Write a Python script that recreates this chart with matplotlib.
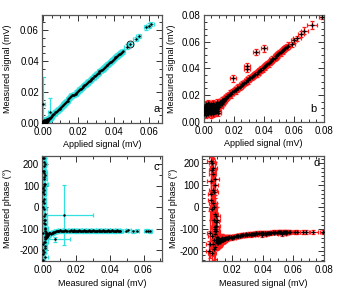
import matplotlib
matplotlib.use('Agg')
import matplotlib.pyplot as plt
from matplotlib.ticker import MultipleLocator, FormatStrFormatter

plt.rcParams['font.family'] = ['Liberation Sans', 'DejaVu Sans']
plt.rcParams['axes.unicode_minus'] = False

CYAN = '#33e0e0'
RED = '#ff1a1a'

# ---------------- data set A (cyan, panels a and c) ----------------
# low-signal cluster
cluster_applied_a = [
    0.0000, 0.0001, 0.0001, 0.0002, 0.0003, 0.0003, 0.0004, 0.0005, 0.0005, 0.0006,
    0.0007, 0.0008, 0.0008, 0.0009, 0.0010, 0.0011, 0.0011, 0.0012, 0.0013, 0.0014,
    0.0015, 0.0016, 0.0017, 0.0018, 0.0019, 0.0020, 0.0021, 0.0022, 0.0023, 0.0024,
    0.0025, 0.0026, 0.0027, 0.0028, 0.0029, 0.0030, 0.0032, 0.0034, 0.0036, 0.0038,
    0.0040, 0.0042, 0.0044, 0.0046, 0.0048,
    0.0002, 0.0004, 0.0006, 0.0009, 0.0012, 0.0014, 0.0016, 0.0019, 0.0021, 0.0024,
    0.0007, 0.0003, 0.0010, 0.0015, 0.0018, 0.0005, 0.0008, 0.0013, 0.0020, 0.0011]
cluster_measured_a = [
    0.0006, 0.0002, 0.0011, 0.0004, 0.0008, 0.0015, 0.0003, 0.0010, 0.0005, 0.0013,
    0.0007, 0.0018, 0.0002, 0.0009, 0.0012, 0.0006, 0.0016, 0.0004, 0.0020, 0.0010,
    0.0008, 0.0014, 0.0003, 0.0017, 0.0011, 0.0022, 0.0007, 0.0015, 0.0026, 0.0012,
    0.0019, 0.0024, 0.0009, 0.0021, 0.0028, 0.0017, 0.0025, 0.0030, 0.0027, 0.0033,
    0.0031, 0.0036, 0.0034, 0.0039, 0.0042,
    0.0009, 0.0005, 0.0013, 0.0003, 0.0007, 0.0011, 0.0004, 0.0015, 0.0008, 0.0012,
    0.0001, 0.0014, 0.0006, 0.0002, 0.0010, 0.0016, 0.0005, 0.0009, 0.0013, 0.0003]
cluster_phase_a = [
    60, -220, 150, -170, 20, -95, 230, -40, 190, -140,
    100, -120, -245, 130, -60, 210, -150, -200, -128, -10,
    80, -180, 170, -115, -80, -135, 40, -160, -130, -110,
    -125, -138, 110, -132, -127, -145, -133, -126, -136, -124,
    -131, -122, -128, -120, -118,
    -60, 170, -190, 90, 230, -100, 0, -230, 140, -30,
    -120, 200, -160, 30, -75, 110, -210, 160, -140, 70]
cluster_phase_err_a = [
    40, 60, 25, 50, 30, 20, 70, 25, 45, 22,
    30, 15, 60, 28, 22, 40, 18, 50, 14, 25,
    30, 18, 55, 15, 20, 12, 35, 16, 10, 20,
    14, 11, 28, 12, 9, 15, 10, 8, 9, 8,
    8, 7, 7, 6, 6,
    30, 40, 25, 50, 35, 20, 45, 30, 40, 25,
    60, 30, 35, 50, 30, 25, 45, 35, 20, 55]

# linear part
line_applied_a = [
    0.0050, 0.0055, 0.0060, 0.0065, 0.0070, 0.0075, 0.0080, 0.0085, 0.0090, 0.0095,
    0.0100, 0.0105, 0.0110, 0.0115, 0.0120, 0.0125, 0.0130, 0.0135, 0.0140, 0.0145,
    0.0150, 0.0155, 0.0160, 0.0165, 0.0170, 0.0175, 0.0180, 0.0185, 0.0190, 0.0195,
    0.0200, 0.0205, 0.0210, 0.0215, 0.0220, 0.0225, 0.0230, 0.0235, 0.0240, 0.0245,
    0.0250, 0.0255, 0.0260, 0.0265, 0.0270, 0.0275, 0.0280, 0.0285, 0.0290, 0.0295,
    0.0300, 0.0305, 0.0310, 0.0315, 0.0320, 0.0325, 0.0330, 0.0335, 0.0340, 0.0345,
    0.0350, 0.0355, 0.0360, 0.0365, 0.0370, 0.0375, 0.0380, 0.0385, 0.0390, 0.0395,
    0.0400, 0.0405, 0.0410, 0.0415, 0.0420, 0.0425, 0.0430, 0.0435, 0.0440, 0.0445,
    0.0450, 0.0475, 0.0493, 0.0523, 0.0542, 0.0583, 0.0598, 0.0612]
line_measured_a = [
    0.0046, 0.0053, 0.0058, 0.0062, 0.0069, 0.0072, 0.0078, 0.0082, 0.0089, 0.0093,
    0.0099, 0.0105, 0.0109, 0.0116, 0.0121, 0.0127, 0.0134, 0.0140, 0.0146, 0.0155,
    0.0163, 0.0170, 0.0177, 0.0180, 0.0183, 0.0181, 0.0186, 0.0190, 0.0197, 0.0201,
    0.0208, 0.0212, 0.0217, 0.0223, 0.0227, 0.0233, 0.0238, 0.0244, 0.0249, 0.0252,
    0.0260, 0.0263, 0.0269, 0.0273, 0.0280, 0.0283, 0.0290, 0.0294, 0.0301, 0.0304,
    0.0312, 0.0315, 0.0320, 0.0325, 0.0333, 0.0336, 0.0342, 0.0345, 0.0352, 0.0356,
    0.0362, 0.0365, 0.0373, 0.0377, 0.0382, 0.0386, 0.0393, 0.0397, 0.0403, 0.0407,
    0.0414, 0.0418, 0.0424, 0.0429, 0.0435, 0.0439, 0.0444, 0.0448, 0.0453, 0.0457,
    0.0462, 0.0493, 0.0510, 0.0540, 0.0561, 0.0617, 0.0628, 0.0639]
line_phase_a = [
    -124, -121, -119, -117, -116, -114, -113, -112, -110, -109,
    -111, -108, -110, -112, -109, -110, -108, -111, -109, -110,
    -112, -108, -110, -109, -111, -110, -108, -109, -111, -110,
    -109, -112, -108, -110, -109, -111, -110, -108, -109, -111,
    -110, -109, -112, -108, -110, -109, -111, -110, -108, -109,
    -111, -110, -109, -112, -108, -110, -109, -111, -110, -108,
    -109, -111, -110, -109, -112, -108, -110, -109, -111, -110,
    -108, -109, -111, -110, -109, -112, -108, -110, -109, -111,
    -110, -110, -108, -111, -109, -110, -109, -111]
line_phase_err_a = 7

# two outliers with large uncertainty
out_applied_a = [0.0000, 0.0043]
out_measured_a = [0.0125, 0.0070]
out_sig_err_a = [0.0175, 0.0090]
out_phase_a = [-35, -150]
out_phase_err_a = [140, 12]

applied_err_a = 0.0014
sig_err_a = 0.0014

# ---------------- data set B (red, panels b and d) ----------------
blob_applied_b = [
    0.0002, 0.0005, 0.0008, 0.0010, 0.0012, 0.0015, 0.0018, 0.0020, 0.0022, 0.0025,
    0.0028, 0.0030, 0.0032, 0.0035, 0.0038, 0.0040, 0.0042, 0.0045, 0.0048, 0.0050,
    0.0052, 0.0055, 0.0058, 0.0060, 0.0062, 0.0065, 0.0068, 0.0070, 0.0072, 0.0075,
    0.0078, 0.0080, 0.0082, 0.0085, 0.0088, 0.0090, 0.0092, 0.0095, 0.0098, 0.0100,
    0.0103, 0.0106, 0.0110, 0.0113, 0.0116, 0.0120, 0.0124, 0.0128, 0.0132, 0.0136,
    0.0140, 0.0144, 0.0148, 0.0152, 0.0156,
    0.0003, 0.0007, 0.0013, 0.0017, 0.0023, 0.0027, 0.0033, 0.0037, 0.0043, 0.0047,
    0.0053, 0.0057, 0.0063, 0.0067, 0.0073, 0.0077, 0.0083, 0.0087, 0.0093, 0.0097,
    0.0004, 0.0016, 0.0026, 0.0036, 0.0046]
blob_measured_b = [
    0.0095, 0.0060, 0.0120, 0.0080, 0.0105, 0.0050, 0.0135, 0.0090, 0.0070, 0.0115,
    0.0100, 0.0140, 0.0065, 0.0110, 0.0085, 0.0125, 0.0075, 0.0100, 0.0130, 0.0090,
    0.0055, 0.0120, 0.0105, 0.0080, 0.0140, 0.0095, 0.0115, 0.0070, 0.0125, 0.0100,
    0.0110, 0.0135, 0.0085, 0.0120, 0.0105, 0.0145, 0.0095, 0.0130, 0.0115, 0.0125,
    0.0140, 0.0110, 0.0150, 0.0130, 0.0145, 0.0135, 0.0160, 0.0150, 0.0165, 0.0155,
    0.0170, 0.0175, 0.0180, 0.0178, 0.0190,
    0.0072, 0.0088, 0.0064, 0.0080, 0.0095, 0.0058, 0.0078, 0.0085, 0.0068, 0.0092,
    0.0075, 0.0083, 0.0062, 0.0090, 0.0070, 0.0087, 0.0076, 0.0098, 0.0082, 0.0066,
    0.0110, 0.0120, 0.0100, 0.0130, 0.0108]
blob_phase_b = [
    -150, 120, -155, -60, -148, -200, -145, -100, 170, -160,
    -135, -150, 30, -165, -30, -152, 80, -158, -147, -125,
    -170, -150, -140, 0, -148, -110, -156, 200, -150, -162,
    -145, -150, -180, -158, -153, -146, -85, -152, -149, -155,
    -145, -160, -144, -150, -147, -141, -142, -146, -140, -143,
    -139, -140, -137, -138, -136,
    150, -90, 60, -190, -40, -120, 180, 100, -210, -70,
    20, -150, 210, -110, -10, 130, -170, -60, 70, -130,
    -150, -155, -148, -152, -146]
blob_phase_err_b = [
    40, 110, 25, 60, 30, 45, 20, 50, 60, 25,
    35, 18, 90, 25, 70, 22, 100, 30, 20, 45,
    60, 25, 30, 80, 18, 40, 25, 30, 22, 35,
    28, 20, 55, 25, 30, 16, 45, 20, 25, 22,
    18, 28, 15, 20, 16, 18, 14, 15, 13, 14,
    12, 12, 11, 11, 10,
    70, 90, 120, 50, 60, 100, 45, 80, 35, 70,
    110, 60, 25, 65, 90, 75, 55, 60, 90, 80,
    30, 25, 35, 20, 30]

line_applied_b = [
    0.0160, 0.0168, 0.0176, 0.0184, 0.0192, 0.0200, 0.0208, 0.0216, 0.0224, 0.0232,
    0.0240, 0.0248, 0.0256, 0.0264, 0.0272, 0.0280, 0.0288, 0.0296, 0.0304, 0.0312,
    0.0320, 0.0328, 0.0336, 0.0344, 0.0352, 0.0360, 0.0368, 0.0376, 0.0384, 0.0392,
    0.0400, 0.0408, 0.0416, 0.0424, 0.0432, 0.0440, 0.0448, 0.0456, 0.0464, 0.0472,
    0.0480, 0.0488, 0.0496, 0.0504, 0.0512, 0.0520, 0.0528, 0.0536, 0.0544, 0.0552,
    0.0560]
line_measured_b = [
    0.0195, 0.0200, 0.0212, 0.0205, 0.0225, 0.0230, 0.0238, 0.0236, 0.0250, 0.0256,
    0.0262, 0.0268, 0.0282, 0.0285, 0.0293, 0.0300, 0.0312, 0.0310, 0.0325, 0.0330,
    0.0336, 0.0342, 0.0350, 0.0358, 0.0362, 0.0372, 0.0378, 0.0390, 0.0392, 0.0400,
    0.0412, 0.0416, 0.0425, 0.0435, 0.0438, 0.0450, 0.0455, 0.0468, 0.0470, 0.0482,
    0.0490, 0.0498, 0.0505, 0.0515, 0.0520, 0.0532, 0.0535, 0.0548, 0.0552, 0.0560,
    0.0572]
line_phase_b = [
    -138, -140, -136, -137, -134, -133, -132, -134, -130, -129,
    -128, -129, -126, -127, -125, -126, -124, -123, -124, -122,
    -123, -121, -122, -120, -121, -120, -119, -120, -118, -119,
    -118, -117, -118, -117, -116, -117, -116, -115, -116, -115,
    -116, -115, -114, -115, -114, -115, -114, -113, -114, -113,
    -114]
line_phase_err_b = 9

# points lying above the main trend
out_applied_b = [0.0197, 0.0286, 0.0290, 0.0348, 0.0399]
out_measured_b = [0.0325, 0.0418, 0.0395, 0.0525, 0.0550]
out_phase_b = [-128, -125, -126, -122, -120]

# sparse high-signal tail
tail_applied_b = [0.0585, 0.0600, 0.0620, 0.0650, 0.0670, 0.0720, 0.0785]
tail_measured_b = [0.0580, 0.0610, 0.0625, 0.0660, 0.0685, 0.0730, 0.0790]
tail_applied_err_b = [0.0020, 0.0020, 0.0025, 0.0020, 0.0025, 0.0035, 0.0020]
tail_sig_err_b = [0.0020, 0.0020, 0.0020, 0.0020, 0.0025, 0.0030, 0.0020]
tail_phase_b = [-114, -113, -114, -113, -114, -113, -114]

applied_err_b = 0.0020
sig_err_b = 0.0024


def draw(ax, x, y, xerr, yerr, color):
    ax.errorbar(x, y, xerr=xerr, yerr=yerr, fmt='none', ecolor=color,
                elinewidth=0.9, capsize=1.3, capthick=0.9, zorder=2)


def dots(ax, x, y, marker='o', ms=1.8, mew=0):
    ax.plot(x, y, marker, color='k', ms=ms, mew=mew, zorder=3)


def style(ax, xlim, ylim, xmaj, xmin, ymaj, ymin, xfmt, yfmt):
    ax.set_xlim(*xlim)
    ax.set_ylim(*ylim)
    ax.xaxis.set_major_locator(MultipleLocator(xmaj))
    ax.xaxis.set_minor_locator(MultipleLocator(xmin))
    ax.yaxis.set_major_locator(MultipleLocator(ymaj))
    ax.yaxis.set_minor_locator(MultipleLocator(ymin))
    ax.xaxis.set_major_formatter(FormatStrFormatter(xfmt))
    ax.yaxis.set_major_formatter(FormatStrFormatter(yfmt))
    ax.tick_params(which='both', direction='in', top=True, right=True,
                   labelsize=7, width=0.7, colors='#333333', labelcolor='black', pad=2)
    ax.tick_params(axis='x', which='major', pad=3)
    ax.tick_params(which='major', length=4)
    ax.tick_params(which='minor', length=2)
    for s in ax.spines.values():
        s.set_color('#555555')
        s.set_linewidth(0.9)


fig = plt.figure(figsize=(3.54, 2.92), dpi=100)
ax_a = fig.add_axes([0.118, 0.578, 0.341, 0.371])
ax_b = fig.add_axes([0.575, 0.583, 0.340, 0.365])
ax_c = fig.add_axes([0.118, 0.106, 0.341, 0.360])
ax_d = fig.add_axes([0.571, 0.106, 0.345, 0.360])

# panel a
draw(ax_a, cluster_applied_a, cluster_measured_a, applied_err_a, sig_err_a, CYAN)
draw(ax_a, line_applied_a, line_measured_a, applied_err_a, sig_err_a, CYAN)
draw(ax_a, out_applied_a, out_measured_a, applied_err_a, out_sig_err_a, CYAN)
for x, y in [(cluster_applied_a, cluster_measured_a), (line_applied_a, line_measured_a),
             (out_applied_a, out_measured_a)]:
    dots(ax_a, x, y)
ax_a.plot(line_applied_a[82], line_measured_a[82], 'o', mfc='none', mec='k', ms=5, mew=0.6, zorder=4)
style(ax_a, (-0.0005, 0.0675), (0, 0.0697), 0.02, 0.005, 0.02, 0.005, '%.2f', '%.2f')
ax_a.set_xlabel('Applied signal (mV)', fontsize=6.5, labelpad=2)
ax_a.set_ylabel('Measured signal (mV)', fontsize=6.5)
ax_a.yaxis.set_label_coords(-0.25, 0.5)
ax_a.text(0.975, 0.13, 'a', transform=ax_a.transAxes, ha='right', va='center', fontsize=8)

# panel b
draw(ax_b, blob_applied_b, blob_measured_b, applied_err_b, sig_err_b, RED)
draw(ax_b, line_applied_b, line_measured_b, applied_err_b, sig_err_b, RED)
draw(ax_b, out_applied_b, out_measured_b, applied_err_b, sig_err_b, RED)
draw(ax_b, tail_applied_b, tail_measured_b, tail_applied_err_b, tail_sig_err_b, RED)
for x, y in [(blob_applied_b, blob_measured_b), (line_applied_b, line_measured_b),
             (out_applied_b, out_measured_b), (tail_applied_b, tail_measured_b)]:
    dots(ax_b, x, y, marker='+', ms=3.4, mew=0.9)
style(ax_b, (0, 0.08), (0, 0.08), 0.02, 0.005, 0.02, 0.005, '%.2f', '%.2f')
ax_b.set_xlabel('Applied signal (mV)', fontsize=6.5, labelpad=2)
ax_b.set_ylabel('Measured signal (mV)', fontsize=6.5)
ax_b.yaxis.set_label_coords(-0.23, 0.5)
ax_b.text(0.91, 0.116, 'b', transform=ax_b.transAxes, ha='center', va='center', fontsize=8)

# panel c
draw(ax_c, cluster_measured_a, cluster_phase_a, sig_err_a, cluster_phase_err_a, CYAN)
draw(ax_c, line_measured_a, line_phase_a, sig_err_a, line_phase_err_a, CYAN)
draw(ax_c, out_measured_a, out_phase_a, out_sig_err_a, out_phase_err_a, CYAN)
for x, y in [(cluster_measured_a, cluster_phase_a), (line_measured_a, line_phase_a),
             (out_measured_a, out_phase_a)]:
    dots(ax_c, x, y)
style(ax_c, (-0.0006, 0.0713), (-251, 239), 0.02, 0.01, 100, 50, '%.2f', '%d')
ax_c.set_xlabel('Measured signal (mV)', fontsize=6.5, labelpad=3)
ax_c.set_ylabel('Measured phase (°)', fontsize=6.5)
ax_c.yaxis.set_label_coords(-0.25, 0.5)
ax_c.text(0.975, 0.89, 'c', transform=ax_c.transAxes, ha='right', va='center', fontsize=8)

# panel d
draw(ax_d, blob_measured_b, blob_phase_b, sig_err_b, blob_phase_err_b, RED)
draw(ax_d, line_measured_b, line_phase_b, sig_err_b, line_phase_err_b, RED)
draw(ax_d, out_measured_b, out_phase_b, sig_err_b, line_phase_err_b, RED)
draw(ax_d, tail_measured_b, tail_phase_b, tail_sig_err_b, line_phase_err_b, RED)
for x, y in [(blob_measured_b, blob_phase_b), (line_measured_b, line_phase_b),
             (out_measured_b, out_phase_b), (tail_measured_b, tail_phase_b)]:
    dots(ax_d, x, y, marker='+', ms=3.4, mew=0.9)
style(ax_d, (0.0004, 0.0801), (-246, 233), 0.02, 0.005, 100, 20, '%.2f', '%d')
ax_d.set_xlabel('Measured signal (mV)', fontsize=6.5, labelpad=3)
ax_d.set_ylabel('Measured phase (°)', fontsize=6.5)
ax_d.yaxis.set_label_coords(-0.2, 0.5)
ax_d.text(0.937, 0.93, 'd', transform=ax_d.transAxes, ha='center', va='center', fontsize=8)

fig.savefig('out.png', dpi=100)
